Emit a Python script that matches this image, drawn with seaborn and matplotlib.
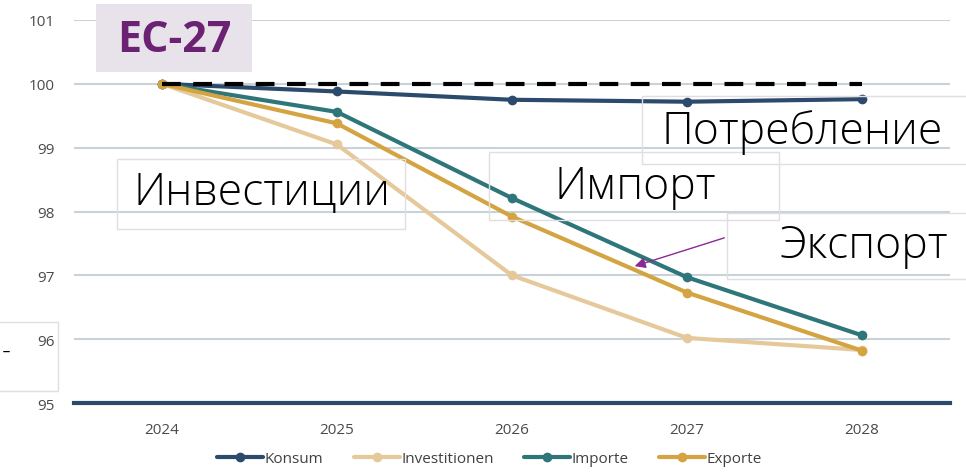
"""EU-27 index chart: consumption, investment, imports, exports 2024-2028."""

import matplotlib.pyplot as plt
import matplotlib.patches as mpatches
import pandas as pd
import seaborn as sns

years = [2024, 2025, 2026, 2027, 2028]
konsum = [100.0, 99.88, 99.75, 99.72, 99.76]
investitionen = [100.0, 99.05, 97.0, 96.02, 95.83]
importe = [100.0, 99.56, 98.21, 96.97, 96.06]
exporte = [100.0, 99.38, 97.92, 96.73, 95.82]
baseline = [100.0, 100.0, 100.0, 100.0, 100.0]

series_names = ["Konsum", "Investitionen", "Importe", "Exporte"]
series_colors = ["#2c4a6b", "#e6c99b", "#2e7679", "#d3a441"]
y_ticks = [95, 96, 97, 98, 99, 100, 101]

df = pd.DataFrame({"year": years * 4,
                   "value": konsum + investitionen + importe + exporte,
                   "series": sum([[n] * len(years) for n in series_names], [])})

sns.set_theme(style="white")
plt.rcParams["font.family"] = ["Open Sans", "DejaVu Sans"]

W, H = 966, 477
fig = plt.figure(figsize=(W / 100, H / 100), dpi=100)
ax = fig.add_axes([0.077, 0.153, 0.906, 0.803])

for t in y_ticks[1:]:
    ax.axhline(t, color="#c9d1d9", lw=1.5, zorder=0)

sns.lineplot(data=df, x="year", y="value", hue="series", hue_order=series_names,
             palette=series_colors, marker="o", markersize=7, markeredgewidth=0,
             linewidth=3, ax=ax, legend=True, zorder=3)

# dashed reference line at 100
ax.plot(years, baseline, color="black", lw=3, ls=(0, (4.5, 3)), zorder=4)

ax.set_xlim(2023.5, 2028.5)
ax.set_ylim(95, 101)
ax.set_xticks(years)
ax.set_yticks(y_ticks)
ax.tick_params(axis="both", length=0, labelsize=11, labelcolor="#4a4a4a")
ax.tick_params(axis="x", pad=14)
ax.tick_params(axis="y", pad=14)
ax.set_xlabel("")
ax.set_ylabel("")
sns.despine(ax=ax, left=True, right=True, top=True)
ax.spines["bottom"].set_color("#2c4a6b")
ax.spines["bottom"].set_linewidth(3)

handles, labels = ax.get_legend_handles_labels()
ax.legend(handles, labels, loc="center", bbox_to_anchor=(0.507, 0.036),
          bbox_transform=fig.transFigure, ncol=4, frameon=False, fontsize=11,
          labelcolor="#404040", handlelength=3.0, handletextpad=0.1,
          columnspacing=2.0)

# title box
fig.patches.append(mpatches.Rectangle((96 / W, 1 - 73 / H), 156 / W, 68 / H,
                                      transform=fig.transFigure,
                                      facecolor="#e8e2ea", edgecolor="none"))
fig.text(174 / W, 1 - 40 / H, "ЕС-27", fontsize=31, fontweight="bold",
         color="#6b2272", ha="center", va="center")

box_style = dict(facecolor="none", edgecolor="#e2dde3", lw=1)


def label_box(x0, y0, x1, y1, text, tx, ty, size=32):
    # pixel coordinates measured from top-left
    fig.patches.append(mpatches.Rectangle((x0 / W, 1 - y1 / H), (x1 - x0) / W,
                                          (y1 - y0) / H, transform=fig.transFigure,
                                          **box_style))
    fig.text(tx / W, 1 - ty / H, text, fontsize=size, color="black",
             ha="center", va="center", fontweight="light")


label_box(642, 97, 970, 165, "Потребление", 802, 133)
label_box(117, 160, 405, 230, "Инвестиции", 262, 194)
label_box(489, 153, 779, 221, "Импорт", 635, 188)
label_box(727, 214, 970, 280, "Экспорт", 864, 247)
label_box(-5, 323, 58, 392, "-", 6, 352, size=20)

ax.annotate("", xy=(632 / W, 1 - 268 / H), xycoords="figure fraction",
            xytext=(727 / W, 1 - 238 / H), textcoords="figure fraction",
            arrowprops=dict(arrowstyle="-|>", color="#8b2a94", lw=1,
                            mutation_scale=16))

fig.savefig("out.png", dpi=100)
